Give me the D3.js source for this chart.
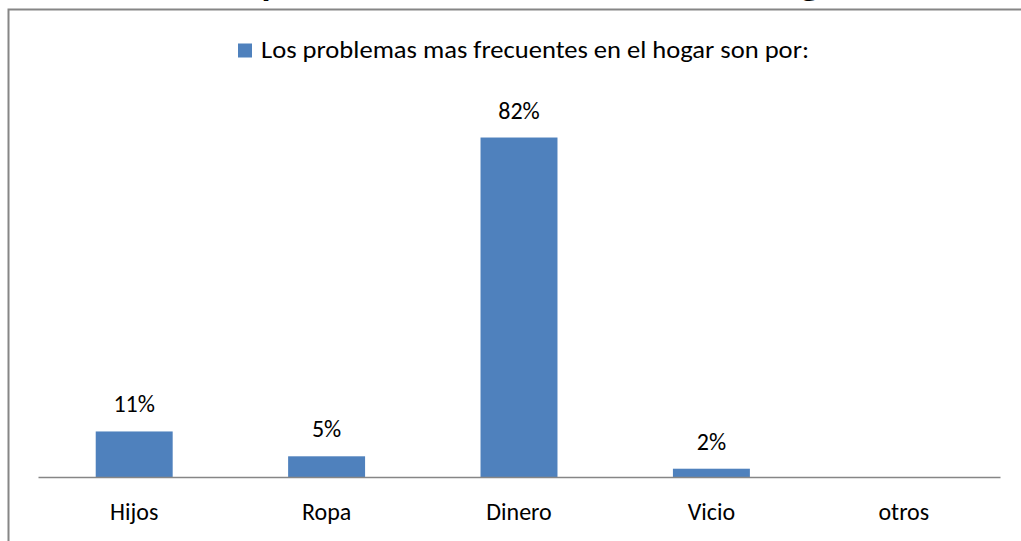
<!DOCTYPE html>
<html lang="es">
<head>
    <meta charset="UTF-8">
    <title>Los problemas mas frecuentes en el hogar</title>
    <script src="https://d3js.org/d3.v7.min.js"></script>
    <style>
        html, body { margin: 0; padding: 0; background: #fff; overflow: hidden; }
        svg { display: block; font-family: Carlito, Calibri, Lato, sans-serif; }
    </style>
</head>
<body>
    <svg id="chart" width="1021" height="541"></svg>

    <script>
        // chart data
        const categories = ["Hijos", "Ropa", "Dinero", "Vicio", "otros"];
        const values = [0.11, 0.05, 0.82, 0.02, 0];
        const seriesName = "Los problemas mas frecuentes en el hogar son por:";
        const titleText = "Los problemas mas frecuentes en el hogar";

        const svg = d3.select("#chart");
        const barColor = "#4f81bd";
        const gray = "#868686";

        // chart area border (runs past the right and bottom edge)
        svg.append("rect")
            .attr("x", 8.5)
            .attr("y", 9.5)
            .attr("width", 1040)
            .attr("height", 600)
            .attr("fill", "none")
            .attr("stroke", gray)
            .attr("stroke-width", 2);

        // title, mostly cut off at the top like in the original
        svg.append("text")
            .attr("x", 203)
            .attr("y", -4)
            .attr("font-size", 30)
            .attr("font-weight", "bold")
            .attr("textLength", 646)
            .attr("lengthAdjust", "spacingAndGlyphs")
            .text(titleText);

        const x = d3.scaleBand()
            .domain(categories)
            .range([38, 1000])
            .paddingInner(0.6)
            .paddingOuter(0.3);

        const y = d3.scaleLinear()
            .domain([0, 0.9])
            .range([477, 104.4]);

        // legend
        const legend = svg.append("g");
        legend.append("rect")
            .attr("x", 238)
            .attr("y", 43.5)
            .attr("width", 14)
            .attr("height", 14)
            .attr("fill", barColor);
        legend.append("text")
            .attr("x", 261)
            .attr("y", 57.5)
            .attr("font-size", 24)
            .attr("textLength", 548)
            .attr("lengthAdjust", "spacingAndGlyphs")
            .text(seriesName);

        const data = categories.map((c, i) => ({ cat: c, value: values[i] }));

        svg.selectAll("rect.bar")
            .data(data)
            .enter().append("rect")
            .attr("class", "bar")
            .attr("x", d => x(d.cat))
            .attr("y", d => y(d.value))
            .attr("width", x.bandwidth())
            .attr("height", d => y(0) - y(d.value))
            .attr("fill", barColor);

        // value labels (no label for empty bar)
        const fmt = d3.format(".0%");
        svg.selectAll("text.value")
            .data(data.filter(d => d.value > 0))
            .enter().append("text")
            .attr("class", "value")
            .attr("x", d => x(d.cat) + x.bandwidth() / 2)
            .attr("y", d => y(d.value) - 19)
            .attr("text-anchor", "middle")
            .attr("font-size", 24)
            .text(d => fmt(d.value));

        // category axis
        const axis = svg.append("g")
            .attr("transform", "translate(0,477)")
            .call(d3.axisBottom(x).tickSize(0).tickPadding(26));
        axis.select(".domain").attr("stroke", gray).attr("stroke-width", 1.3);
        axis.selectAll("text")
            .attr("font-size", 24)
            .attr("font-family", "Carlito, Calibri, Lato, sans-serif")
            .attr("fill", "#000");
    </script>
</body>
</html>
